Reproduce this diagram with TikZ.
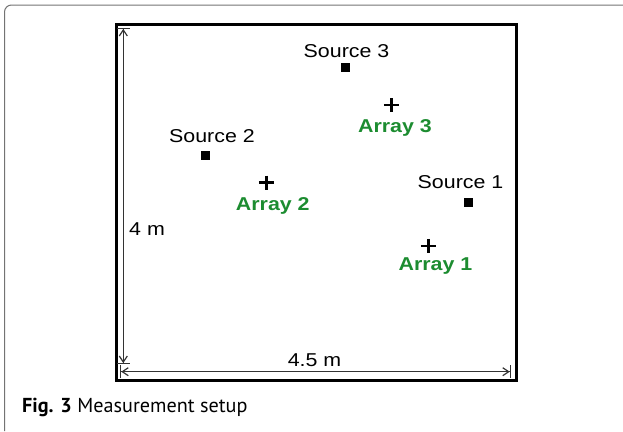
\documentclass[tikz,border=0pt]{standalone}
\usepackage{fontspec}
\setmainfont{Liberation Sans}[FakeStretch=1.15]
\newfontfamily\capfont{PT Sans}
\usetikzlibrary{calc,positioning,arrows.meta}

\definecolor{arraygreen}{RGB}{28,140,48}

\tikzset{
  srcbox/.style={rectangle,fill=black,draw=none,minimum size=9pt,inner sep=0pt},
  arraypos/.style={rectangle,draw=none,minimum width=15pt,minimum height=14pt,inner sep=0pt,
    path picture={\draw[line width=2.4pt] (path picture bounding box.north) -- (path picture bounding box.south)
                                           (path picture bounding box.west) -- (path picture bounding box.east);}},
  lbl/.style={anchor=base,inner sep=0pt,font=\fontsize{18.6}{20}\selectfont},
  arraylbl/.style={lbl,text=arraygreen,font=\fontsize{18.6}{20}\selectfont\bfseries},
  dimline/.style={line width=1.2pt,draw=black!80,
    {Bar[width=13pt]Straight Barb[length=6pt,width=8pt]}-{Straight Barb[length=6pt,width=8pt]Bar[width=13pt]}}
}

\begin{document}
\begin{tikzpicture}[x=1pt,y=-1pt]

  \useasboundingbox (0,0) rectangle (623,431);

  %% caption box, only its top and left edges show
  \draw[line width=1pt,draw=black!55,rounded corners=7pt] (4.5,431) -- (4.5,5) -- (623,5);

  %% the room
  \draw[line width=3pt,line join=miter] (116,24) rectangle (516.5,380);

  %% dimensions
  \coordinate (vtop) at (123.3,27.7);
  \coordinate (vbot) at (123.3,364.3);
  \coordinate (hleft) at (120,371.7);
  \coordinate (hright) at (511,371.7);
  \draw[dimline] (vtop) -- (vbot);
  \draw[dimline] (hleft) -- (hright);
  \node (len_v) [lbl,anchor=base west] at (129,235) {4 m};
  \node (len_h) [lbl] at (314.5,366) {4.5 m};

  \foreach \i/\sx/\sy/\tx/\ty in {1/468/202.7/460.5/188.3, 2/205/155.5/212/142.7, 3/345.3/67/346.5/57.3}
           {
             \node (src_\i) [srcbox] at (\sx,\sy) {};
             \node (srclbl_\i) [lbl] at (\tx,\ty) {Source \i};
           }

  \foreach \i/\ax/\ay/\tx/\ty in {1/428.3/245.8/435.5/270, 2/266.3/182.5/272.8/210.7, 3/391.3/105/395/132.3}
           {
             \node (arr_\i) [arraypos] at (\ax,\ay) {};
             \node (arrlbl_\i) [arraylbl] at (\tx,\ty) {Array \i};
           }

  \node (caption) [anchor=base west,inner sep=0pt,font=\capfont\fontsize{20.2}{22}\selectfont] at (22,412.7) {\textbf{Fig. 3} Measurement setup};

\end{tikzpicture}
\end{document}
